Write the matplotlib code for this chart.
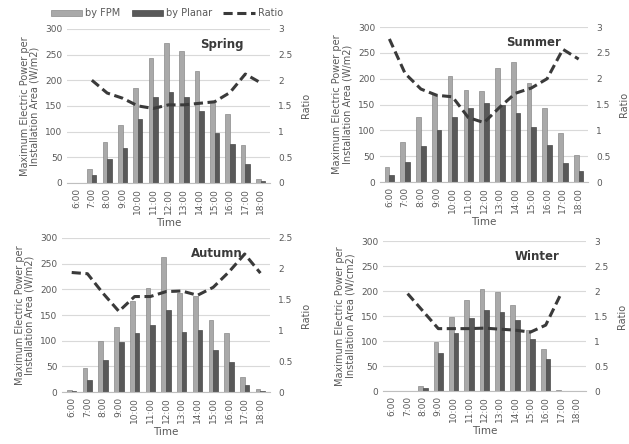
import numpy as np
import matplotlib.pyplot as plt

# hourly maximum electric power per installation area, by season
hours = ["6:00", "7:00", "8:00", "9:00", "10:00", "11:00", "12:00",
         "13:00", "14:00", "15:00", "16:00", "17:00", "18:00"]

spring_fpm = [0, 28, 80, 112, 185, 243, 272, 257, 218, 155, 134, 73, 8]
spring_planar = [0, 15, 46, 68, 124, 168, 178, 168, 140, 98, 76, 36, 3]
spring_ratio = [np.nan, 2.0, 1.75, 1.65, 1.5, 1.45, 1.52, 1.52, 1.55, 1.58, 1.76, 2.12, 1.95]

summer_fpm = [30, 78, 125, 170, 206, 178, 176, 220, 232, 192, 144, 95, 53]
summer_planar = [13, 38, 69, 100, 126, 143, 153, 150, 133, 106, 71, 37, 22]
summer_ratio = [2.77, 2.1, 1.8, 1.68, 1.65, 1.25, 1.15, 1.45, 1.72, 1.82, 2.0, 2.57, 2.38]

autumn_fpm = [4, 47, 100, 127, 178, 203, 262, 192, 188, 140, 115, 30, 5]
autumn_planar = [2, 24, 63, 97, 115, 131, 160, 117, 120, 81, 59, 13, 2]
autumn_ratio = [1.94, 1.92, 1.6, 1.31, 1.55, 1.55, 1.63, 1.64, 1.57, 1.7, 1.95, 2.24, 1.93]

winter_fpm = [0, 1, 11, 98, 149, 182, 204, 199, 173, 122, 85, 3, 0]
winter_planar = [0, 1, 7, 77, 117, 146, 162, 159, 143, 105, 65, 1, 0]
winter_ratio = [np.nan, 1.95, 1.6, 1.25, 1.25, 1.25, 1.26, 1.24, 1.22, 1.18, 1.32, 1.95, np.nan]

FPM_COLOR = "#a9a9a9"
PLANAR_COLOR = "#595959"
LINE_COLOR = "#3a3a3a"
TEXT_COLOR = "#595959"

panels = [
    ("Spring", spring_fpm, spring_planar, spring_ratio, 3, "(W/m2)", [0.107, 0.588, 0.322, 0.347]),
    ("Summer", summer_fpm, summer_planar, summer_ratio, 3, "(W/m2)", [0.604, 0.590, 0.331, 0.349]),
    ("Autumn", autumn_fpm, autumn_planar, autumn_ratio, 2.5, "(W/m2)", [0.099, 0.117, 0.330, 0.347]),
    ("Winter", winter_fpm, winter_planar, winter_ratio, 3, "(W/cm2)", [0.609, 0.119, 0.322, 0.338]),
]

fig = plt.figure(figsize=(6.29, 4.44), dpi=100)
x = np.arange(len(hours))
w = 0.3

for name, fpm, planar, ratio, rmax, unit, pos in panels:
    ax = fig.add_axes(pos)
    ax.bar(x - w / 2, fpm, w, color=FPM_COLOR, edgecolor="#8a8a8a", linewidth=0.5,
           label="by FPM", zorder=2)
    ax.bar(x + w / 2, planar, w, color=PLANAR_COLOR, edgecolor="#4a4a4a", linewidth=0.5,
           label="by Planar", zorder=2)
    ax.set_ylim(0, 300)
    ax.set_yticks(range(0, 301, 50))
    ax.set_xlim(-0.6, len(hours) - 0.4)
    ax.set_xticks(x)
    ax.set_xticklabels(hours, rotation=90)
    ax.yaxis.grid(True, color="#d9d9d9", linewidth=0.8, zorder=0)
    ax.set_axisbelow(True)
    for s in ["top", "right", "left"]:
        ax.spines[s].set_visible(False)
    ax.spines["bottom"].set_color("#bfbfbf")
    ax.tick_params(axis="both", length=0, labelsize=6.5, colors=TEXT_COLOR)
    ax.set_xlabel("Time", fontsize=7.5, color=TEXT_COLOR, labelpad=3)
    ax.set_ylabel("Maximum Electric Power per\nInstallation Area " + unit,
                  fontsize=7, color=TEXT_COLOR, labelpad=4, linespacing=1.0)

    ax2 = ax.twinx()
    ax2.plot(x, ratio, color=LINE_COLOR, linestyle=(0, (3, 1.5)), linewidth=2.2,
             label="Ratio", zorder=3)
    ax2.set_ylim(0, rmax)
    ax2.set_yticks(np.arange(0, rmax + 0.01, 0.5))
    ax2.set_yticklabels([f"{v:g}" for v in np.arange(0, rmax + 0.01, 0.5)])
    for s in ax2.spines.values():
        s.set_visible(False)
    ax2.tick_params(axis="y", length=0, labelsize=6.5, colors=TEXT_COLOR, pad=6)
    ax2.set_ylabel("Ratio", fontsize=7, color=TEXT_COLOR, labelpad=6)

    ax.text(0.87, 0.9, name, transform=ax.transAxes, ha="right", va="center",
            fontsize=8.5, fontweight="bold", color="#3a3a3a", zorder=5)

    if name == "Spring":
        h1, l1 = ax.get_legend_handles_labels()
        h2, l2 = ax2.get_legend_handles_labels()
        fig.legend(h1 + h2, l1 + l2, loc="center", bbox_to_anchor=(0.265, 0.97),
                   ncol=3, frameon=False, fontsize=7, handlelength=3.2,
                   handleheight=0.6, columnspacing=1.2, handletextpad=0.3,
                   labelcolor=TEXT_COLOR)

fig.savefig("out.png", dpi=100)
